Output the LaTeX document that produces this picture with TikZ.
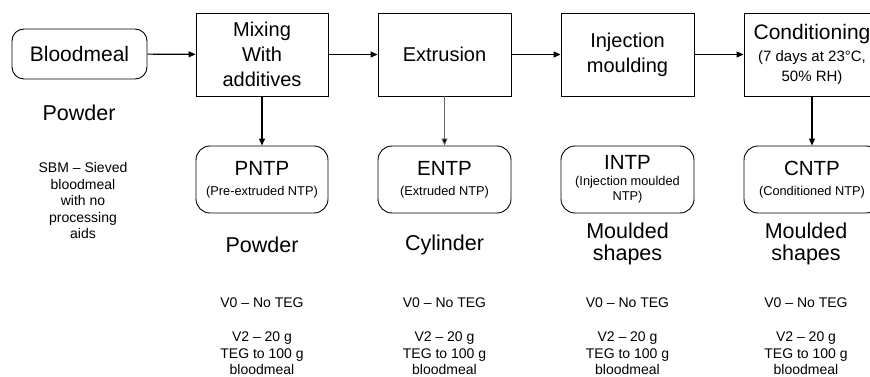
\documentclass[tikz,border=0pt]{standalone}
\usepackage{fontspec}
\setmainfont{Liberation Sans}
\usetikzlibrary{arrows.meta}
\begin{document}
\begin{tikzpicture}[x=1pt,y=-1pt,
  stage/.style={draw=black,line width=0.9pt,align=center,inner sep=0pt,
    minimum height=83pt,font=\fontsize{20}{25}\selectfont},
  product/.style={draw=black,line width=0.9pt,rounded corners=14pt,align=center,
    inner sep=0pt,minimum height=67pt,font=\fontsize{12.8}{15}\selectfont},
  big/.style={align=center,font=\fontsize{21.5}{22.5}\selectfont},
  small/.style={align=center,font=\fontsize{14}{16.5}\selectfont},
  flow/.style={line width=1.1pt,-{Triangle[length=7pt,width=6pt]}},
  greyflow/.style={draw=black!60,line width=0.8pt,-{Triangle[length=7pt,width=6pt,fill=black]}}]
\clip (0,0) rectangle (870,377);
\fill[white] (0,0) rectangle (870,377);

% raw material
\node[draw=black,line width=0.9pt,rounded corners=12pt,minimum width=135pt,
  minimum height=50pt,inner sep=0pt,font=\fontsize{21}{24}\selectfont]
  (blood) at (79.5,54) {Bloodmeal};
\node[big] (rawform) at (79,113) {Powder};
\node[small] (rawnote) at (83,200.5) {SBM -- Sieved\\bloodmeal\\with no\\processing\\aids};

% processing stages
\node[stage,minimum width=132pt] (mix) at (262,54.5) {Mixing\\With\\additives};
\node[stage,minimum width=133pt] (extr) at (444.5,54.5) {Extrusion};
\node[stage,minimum width=133pt] (inj) at (627.5,54.5) {Injection\\moulding};
\node[stage,minimum width=136pt,font=\fontsize{15}{20}\selectfont] (cond) at (812,54.5)
  {{\fontsize{21}{24}\selectfont Conditioning}\\[2pt](7 days at 23°C,\\50\% RH)};

% products
\node[product,minimum width=132pt] (pntp) at (262,179.5)
  {{\fontsize{20.5}{24}\selectfont PNTP}\\[5pt](Pre-extruded NTP)};
\node[product,minimum width=133pt] (entp) at (444.5,179.5)
  {{\fontsize{20.5}{24}\selectfont ENTP}\\[5pt](Extruded NTP)};
\node[product,minimum width=133pt] (intp) at (627.5,179.5)
  {{\fontsize{20.5}{24}\selectfont INTP}\\[1pt](Injection moulded\\NTP)};
\node[product,minimum width=136pt] (cntp) at (812,179.5)
  {{\fontsize{20.5}{24}\selectfont CNTP}\\[5pt](Conditioned NTP)};

% product forms
\node[big] (form1) at (262,245) {Powder};
\node[big] (form2) at (444.5,245) {Cylinder};
\node[big] (form3) at (627.5,244) {Moulded\\shapes};
\node[big] (form4) at (806,244) {Moulded\\shapes};

% formulations
\foreach \col/\xx in {1/262,2/444.5,3/627.5,4/806}{
  \node[small] (vzero\col) at (\xx,303) {V0 -- No TEG};
  \node[small] (vtwo\col) at (\xx,353.5) {V2 -- 20 g\\TEG to 100 g\\bloodmeal};
}

% connectors
\draw[flow] (blood) -- (mix);
\draw[flow] (mix) -- (extr);
\draw[flow] (extr) -- (inj);
\draw[flow] (inj) -- (cond);
\draw[flow] (mix) -- (pntp);
\draw[greyflow] (extr) -- (entp);
\draw[flow] (cond) -- (cntp);
\end{tikzpicture}
\end{document}
